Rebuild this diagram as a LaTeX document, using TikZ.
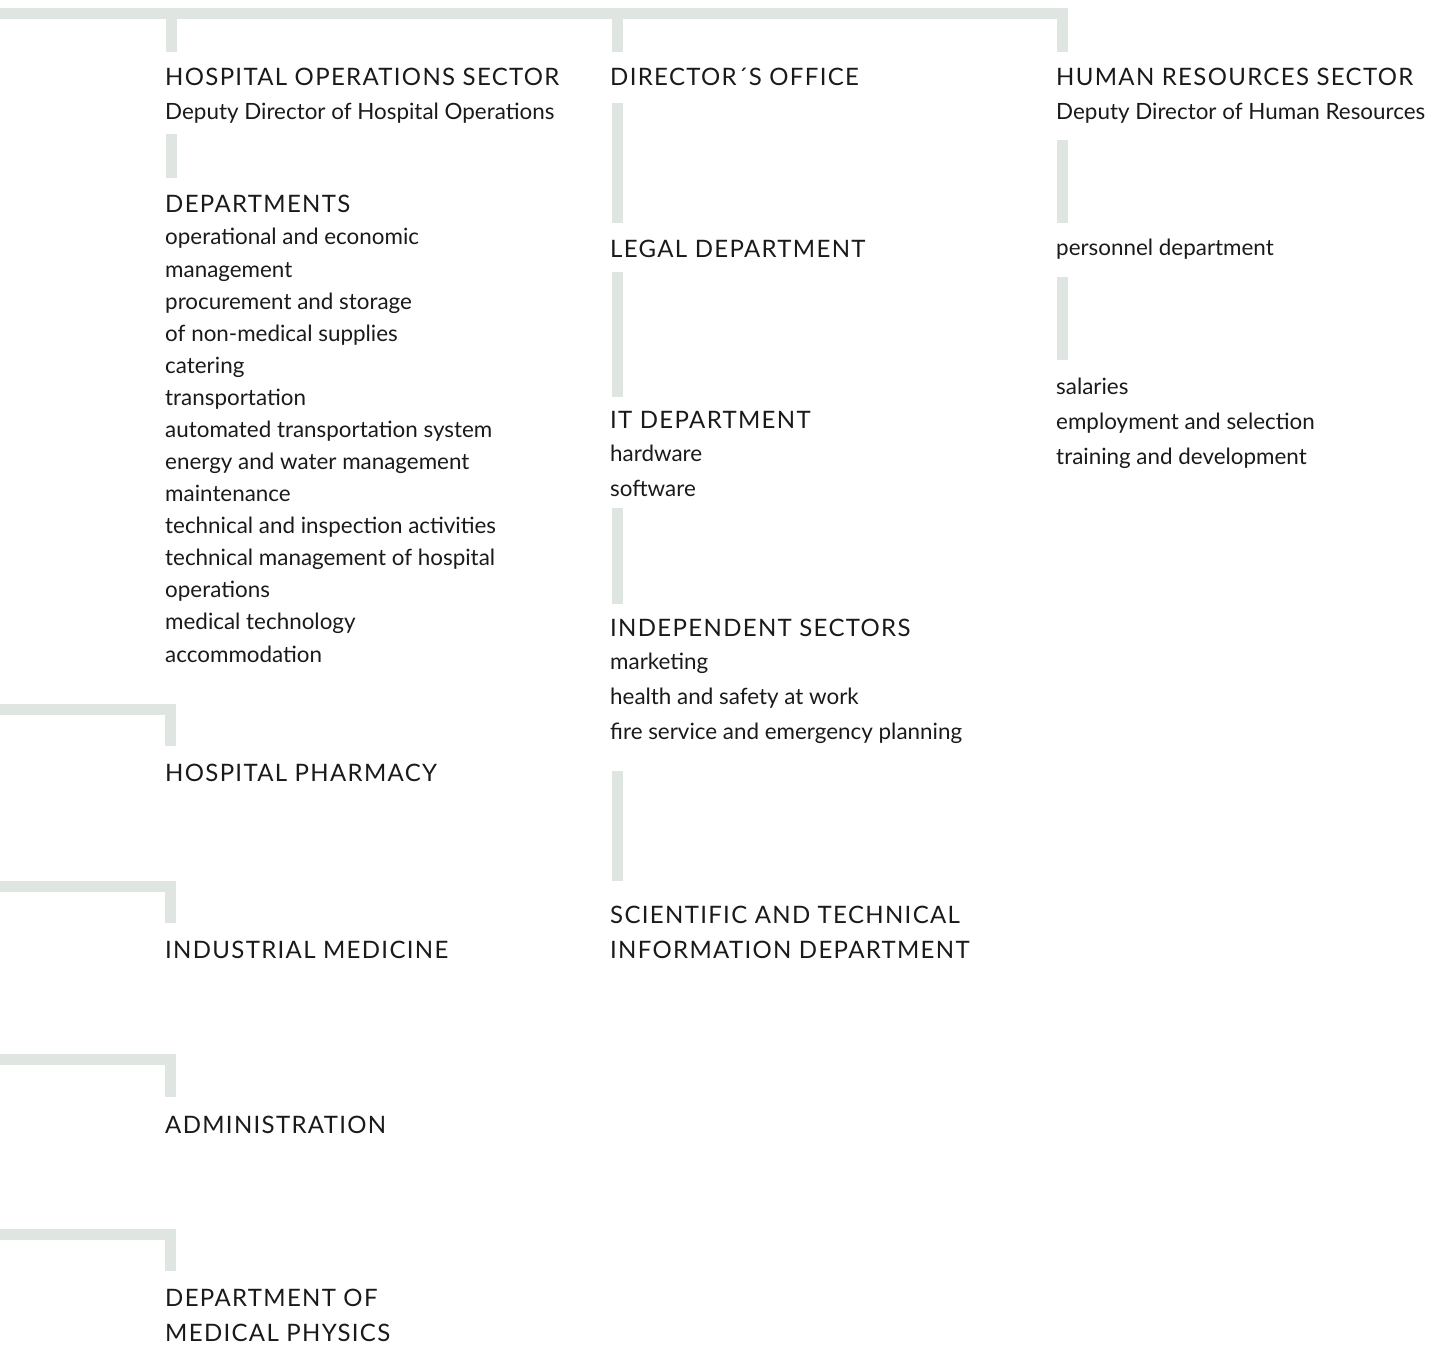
\documentclass[tikz,border=0pt]{standalone}
\usepackage{fontspec}
\setmainfont{Lato}
\newfontfamily\headfont[LetterSpace=5.5]{Lato}
\definecolor{barcol}{RGB}{223,230,226}
\definecolor{txtcol}{RGB}{26,26,26}
\tikzset{
  bar/.style={draw=barcol, line width=11pt, line cap=butt, line join=miter},
  head/.style={anchor=base west, inner sep=0pt, text=txtcol, font=\headfont\fontsize{24}{24}\selectfont},
  body/.style={anchor=base west, inner sep=0pt, text=txtcol, font=\fontsize{22.4}{22.4}\selectfont},
}
\begin{document}
\begin{tikzpicture}[x=1pt,y=-1pt]
\useasboundingbox (0,0) rectangle (1431,1348);
% coordinates for connector ends
\coordinate (topL) at (0,13.5);
\coordinate (c1) at (171.5,13.5);
\coordinate (c2) at (617,13.5);
\coordinate (c3) at (1062.5,13.5);
% top bar and stubs
\draw[bar] (topL) -- (c3) -- (1062.5,52);
\draw[bar] (c1) -- (171.5,52);
\draw[bar] (c2) -- (617,52);
% column 1
\node[head] (hos) at (165,86) {HOSPITAL OPERATIONS SECTOR};
\node[body] (hosd) at (165,120) {Deputy Director of Hospital Operations};
\draw[bar] (171.5,134) -- (171.5,178);
\node[head] (dep) at (165,213) {DEPARTMENTS};
\node[body] (d1) at (165,245) {operational and economic};
\node[body] (d2) at (165,277) {management};
\node[body] (d3) at (165,309) {procurement and storage};
\node[body] (d4) at (165,341) {of non-medical supplies};
\node[body] (d5) at (165,373) {catering};
\node[body] (d6) at (165,405) {transportation};
\node[body] (d7) at (165,437) {automated transportation system};
\node[body] (d8) at (165,469) {energy and water management};
\node[body] (d9) at (165,501) {maintenance};
\node[body] (d10) at (165,533) {technical and inspection activities};
\node[body] (d11) at (165,565) {technical management of hospital};
\node[body] (d12) at (165,597) {operations};
\node[body] (d13) at (165,629) {medical technology};
\node[body] (d14) at (165,662) {accommodation};
% left brackets
\draw[bar] (0,709) -- (170.5,709) -- (170.5,746);
\node[head] (pha) at (165,781) {HOSPITAL PHARMACY};
\draw[bar] (0,886) -- (170.5,886) -- (170.5,923);
\node[head] (ind) at (165,958) {INDUSTRIAL MEDICINE};
\draw[bar] (0,1059.5) -- (170.5,1059.5) -- (170.5,1097);
\node[head] (adm) at (165,1133) {ADMINISTRATION};
\draw[bar] (0,1234) -- (170.5,1234) -- (170.5,1271);
\node[head] (mp1) at (165,1306) {DEPARTMENT OF};
\node[head] (mp2) at (165,1341) {MEDICAL PHYSICS};
% column 2
\node[head] (dir) at (610,86) {DIRECTOR´S OFFICE};
\draw[bar] (617,103) -- (617,223);
\node[head] (leg) at (610,258) {LEGAL DEPARTMENT};
\draw[bar] (617,272) -- (617,397);
\node[head] (it) at (610,428) {IT DEPARTMENT};
\node[body] (it1) at (610,461) {hardware};
\node[body] (it2) at (610,496) {software};
\draw[bar] (617,508) -- (617,604);
\node[head] (isec) at (610,636) {INDEPENDENT SECTORS};
\node[body] (is1) at (610,669) {marketing};
\node[body] (is2) at (610,704) {health and safety at work};
\node[body] (is3) at (610,739) {fire service and emergency planning};
\draw[bar] (617,771) -- (617,881);
\node[head] (sci1) at (610,923) {SCIENTIFIC AND TECHNICAL};
\node[head] (sci2) at (610,958) {INFORMATION DEPARTMENT};
% column 3
\node[head] (hr) at (1056,86) {HUMAN RESOURCES SECTOR};
\node[body] (hrd) at (1056,120) {Deputy Director of Human Resources};
\draw[bar] (1062.5,140) -- (1062.5,223);
\node[body] (per) at (1056,255) {personnel department};
\draw[bar] (1062.5,277) -- (1062.5,360);
\node[body] (sal) at (1056,394) {salaries};
\node[body] (emp) at (1056,429) {employment and selection};
\node[body] (tra) at (1056,464) {training and development};
\end{tikzpicture}
\end{document}
